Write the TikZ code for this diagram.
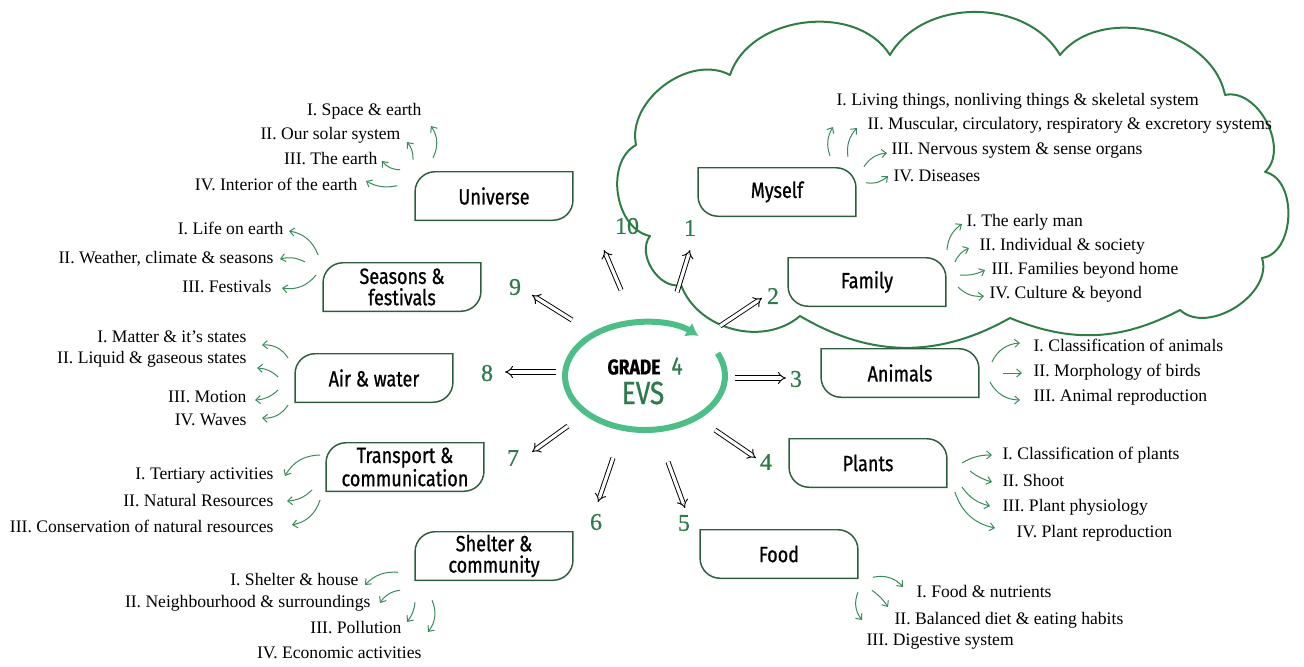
\documentclass[tikz,border=0pt]{standalone}
\usepackage{fontspec}
\setmainfont{Liberation Serif}
\newfontfamily\titlefont[FakeStretch=0.82,FakeBold=0.8]{Fira Sans}
\newfontfamily\numfont[FakeBold=0.6]{Liberation Serif}
\usetikzlibrary{arrows.meta}

\definecolor{numgreen}{HTML}{2E7A4C}
\definecolor{arrgreen}{HTML}{3A8A5A}
\definecolor{boxgreen}{HTML}{2C5E3E}
\definecolor{cloudgreen}{HTML}{2E7D44}
\definecolor{ringgreen}{HTML}{4DBE88}

\tikzset{
  topic/.style={minimum width=118pt, minimum height=36pt, inner sep=0pt, align=center,
    font=\titlefont\fontsize{16.5}{16}\selectfont},
  subtxt/.style={inner sep=1pt, font=\fontsize{13.2}{14}\selectfont},
  num/.style={inner sep=1pt, text=numgreen, font=\numfont\fontsize{18}{18}\selectfont},
  dblarr/.style={double, double distance=2.4pt, line width=0.7pt, -{Implies}},
  subarr/.style={draw=arrgreen, line width=0.75pt, -{Straight Barb[length=3.5pt,width=6pt]}},
  boxline/.style={draw=boxgreen, line width=1.1pt},
  cloudline/.style={draw=cloudgreen, line width=1.5pt, line join=round}
}

% box with rounded top left and bottom right corners
\newcommand\boxleft[1]{\draw[boxline] (#1.south west) -- ([yshift=-15pt]#1.north west)
  arc[start angle=180,end angle=90,radius=15pt] -- (#1.north east)
  -- ([yshift=15pt]#1.south east) arc[start angle=0,end angle=-90,radius=15pt] -- cycle;}
% box with rounded top right and bottom left corners
\newcommand\boxright[1]{\draw[boxline] (#1.north west) -- ([xshift=-15pt]#1.north east)
  arc[start angle=90,end angle=0,radius=15pt] -- (#1.south east)
  -- ([xshift=15pt]#1.south west) arc[start angle=270,end angle=180,radius=15pt] -- cycle;}

\begin{document}
\begin{tikzpicture}[x=0.75pt,y=0.75pt]
\useasboundingbox (0,0) rectangle (1304,-667);

% cloud round myself and family
\draw[cloudline] (681,-285) to[bend left=70] (650,-236) to[bend left=70] (636,-145)
  to[bend left=65] (730,-75) to[bend left=65] (890,-55) to[bend left=60] (1060,-55)
  to[bend left=65] (1225,-95) to[bend left=75] (1265,-172) to[bend left=80] (1262,-258)
  to[bend left=75] (1180,-310) to[bend left=25] (1010,-318) to[bend left=30] (800,-316)
  to[bend left=55] (681,-285);

% centre
\draw[ringgreen, line width=4.5pt, -{Latex[length=9pt,width=12pt]}]
  (645,-376) ++(25:80 and 54) arc[start angle=25,end angle=-312,x radius=80,y radius=54];
\node[inner sep=0pt, font=\titlefont\bfseries\fontsize{16}{16}\selectfont] (grade) at (634,-367) {GRADE};
\node[inner sep=0pt, text=numgreen, font=\titlefont\fontsize{19}{19}\selectfont] (four) at (677,-366) {4};
\node[inner sep=0pt, text=numgreen, font=\titlefont\fontsize{24}{24}\selectfont] (evs) at (643,-393) {EVS};

% topics
\node[topic] (uni) at (494,-196) {Universe};
\node[topic] (mys) at (777,-192) {Myself};
\node[topic] (fam) at (867,-282) {Family};
\node[topic] (sea) at (402,-287) {Seasons \&\\festivals};
\node[topic] (air) at (374,-378) {Air \& water};
\node[topic] (ani) at (900,-373) {Animals};
\node[topic] (tra) at (405,-467) {Transport \&\\communication};
\node[topic] (pla) at (868,-463) {Plants};
\node[topic] (she) at (494,-556) {Shelter \&\\community};
\node[topic] (foo) at (779,-554) {Food};
\boxleft{uni} \boxleft{sea} \boxleft{air} \boxleft{tra} \boxleft{she}
\boxright{mys} \boxright{fam} \boxright{ani} \boxright{pla} \boxright{foo}

% numbers
\node[num] (n1) at (690,-228) {1};
\node[num] (n2) at (773,-296) {2};
\node[num] (n3) at (796,-379) {3};
\node[num] (n4) at (766,-462) {4};
\node[num] (n5) at (684,-523) {5};
\node[num] (n6) at (596,-522) {6};
\node[num] (n7) at (513,-458) {7};
\node[num] (n8) at (487,-373) {8};
\node[num] (n9) at (515,-287) {9};
\node[num] (n10) at (627,-226) {10};

% double arrows out of the centre
\coordinate (c1) at (677,-292);
\coordinate (c2) at (720,-326);
\coordinate (c3) at (735,-378);
\coordinate (c4) at (715,-430);
\coordinate (c5) at (668,-462);
\coordinate (c6) at (613,-458);
\coordinate (c7) at (568,-426);
\coordinate (c8) at (556,-372);
\coordinate (c9) at (572,-320);
\coordinate (c10) at (621,-290);
\draw[dblarr] (c1) -- ([shift={(0,-22)}]n1.center);
\draw[dblarr] (c2) -- ([shift={(-11,-2)}]n2.center);
\draw[dblarr] (c3) -- ([shift={(-10,1)}]n3.center);
\draw[dblarr] (c4) -- ([shift={(-10,4)}]n4.center);
\draw[dblarr] (c5) -- ([shift={(1,15)}]n5.center);
\draw[dblarr] (c6) -- ([shift={(2,20)}]n6.center);
\draw[dblarr] (c7) -- ([shift={(19,6)}]n7.center);
\draw[dblarr] (c8) -- ([shift={(18,1)}]n8.center);
\draw[dblarr] (c9) -- ([shift={(17,-8)}]n9.center);
\draw[dblarr] (c10) -- ([shift={(-23,-24)}]n10.center);

% universe
\node[subtxt, anchor=east] (u1) at (423,-111) {I. Space \& earth};
\node[subtxt, anchor=east] (u2) at (402,-135) {II. Our solar system};
\node[subtxt, anchor=east] (u3) at (379,-159) {III. The earth};
\node[subtxt, anchor=east] (u4) at (359,-184) {IV. Interior of the earth};
\draw[subarr] ([shift={(18,14)}]uni.north west) to[bend right=30] ([shift={(8,-15)}]u1.east);
\draw[subarr] ([shift={(-2,12)}]uni.north west) to[bend right=20] ([shift={(5,-7)}]u2.east);
\draw[subarr] ([shift={(-15,2)}]uni.north west) to[bend left=25] ([shift={(3,-2)}]u3.east);
\draw[subarr] ([shift={(-18,-14)}]uni.north west) to[bend left=20] ([shift={(7,3)}]u4.east);

% myself
\node[subtxt, anchor=west] (m1) at (835,-101) {I. Living things, nonliving things \& skeletal system};
\node[subtxt, anchor=west] (m2) at (866,-125) {II. Muscular, circulatory, respiratory \& excretory systems};
\node[subtxt, anchor=west] (m3) at (890,-151) {III. Nervous system \& sense organs};
\node[subtxt, anchor=west] (m4) at (892,-176) {IV. Diseases};
\draw[subarr] ([shift={(-26,12)}]mys.north east) to[bend left=25] ([shift={(-2,-26)}]m1.west);
\draw[subarr] ([shift={(-8,11)}]mys.north east) to[bend left=25] ([shift={(-9,-3)}]m2.west);
\draw[subarr] ([shift={(8,1)}]mys.north east) to[bend left=25] ([shift={(-3,-2)}]m3.west);
\draw[subarr] ([shift={(10,-15)}]mys.north east) to[bend right=25] ([shift={(-4,0)}]m4.west);

% family
\node[subtxt, anchor=west] (f1) at (965,-222) {I. The early man};
\node[subtxt, anchor=west] (f2) at (978,-246) {II. Individual \& society};
\node[subtxt, anchor=west] (f3) at (990,-270) {III. Families beyond home};
\node[subtxt, anchor=west] (f4) at (988,-294) {IV. Culture \& beyond};
\draw[subarr] ([shift={(1,32)}]fam.east) to[bend left=25] ([shift={(-3,-2)}]f1.west);
\draw[subarr] ([shift={(9,20)}]fam.east) to[bend left=20] ([shift={(-9,-2)}]f2.west);
\draw[subarr] ([shift={(14,7)}]fam.east) to[bend right=15] ([shift={(-5,0)}]f3.west);
\draw[subarr] ([shift={(12,-5)}]fam.east) to[bend right=25] ([shift={(-4,-2)}]f4.west);

% seasons & festivals
\node[subtxt, anchor=east] (s1) at (285,-228) {I. Life on earth};
\node[subtxt, anchor=east] (s2) at (275,-259) {II. Weather, climate \& seasons};
\node[subtxt, anchor=east] (s3) at (273,-287) {III. Festivals};
\draw[subarr] ([shift={(-5,32)}]sea.west) to[bend right=30] ([shift={(4,-3)}]s1.east);
\draw[subarr] ([shift={(-18,25)}]sea.west) to[bend right=20] ([shift={(5,0)}]s2.east);
\draw[subarr] ([shift={(-7,12)}]sea.west) to[bend left=30] ([shift={(9,-1)}]s3.east);

% air & water
\node[subtxt, anchor=east] (w1) at (248,-337) {I. Matter \& it's states};
\node[subtxt, anchor=east] (w2) at (248,-359) {II. Liquid \& gaseous states};
\node[subtxt, anchor=east] (w3) at (248,-397) {III. Motion};
\node[subtxt, anchor=east] (w4) at (248,-420) {IV. Waves};
\draw[subarr] ([shift={(-7,20)}]air.west) to[bend right=30] ([shift={(14,-8)}]w1.east);
\draw[subarr] ([shift={(-17,1)}]air.west) to[bend right=20] ([shift={(9,-9)}]w2.east);
\draw[subarr] ([shift={(-17,-12)}]air.west) to[bend left=20] ([shift={(7,-3)}]w3.east);
\draw[subarr] ([shift={(-7,-27)}]air.west) to[bend left=30] ([shift={(14,2)}]w4.east);

% transport & communication
\node[subtxt, anchor=east] (t1) at (275,-476) {I. Tertiary activities};
\node[subtxt, anchor=east] (t2) at (275,-501) {II. Natural Resources};
\node[subtxt, anchor=east] (t3) at (275,-526) {III. Conservation of natural resources};
\draw[subarr] ([shift={(-6,12)}]tra.west) to[bend right=30] ([shift={(10,0)}]t1.east);
\draw[subarr] ([shift={(-14,-23)}]tra.west) to[bend left=20] ([shift={(12,0)}]t2.east);
\draw[subarr] ([shift={(-6,-33)}]tra.west) to[bend left=30] ([shift={(17,1)}]t3.east);

% shelter & community
\node[subtxt, anchor=east] (h1) at (360,-580) {I. Shelter \& house};
\node[subtxt, anchor=east] (h2) at (372,-603) {II. Neighbourhood \& surroundings};
\node[subtxt, anchor=east] (h3) at (403,-628) {III. Pollution};
\node[subtxt, anchor=east] (h4) at (423,-653) {IV. Economic activities};
\draw[subarr] ([shift={(-17,8)}]she.south west) to[bend right=25] ([shift={(5,-5)}]h1.east);
\draw[subarr] ([shift={(-15,-10)}]she.south west) to[bend right=25] ([shift={(8,0)}]h2.east);
\draw[subarr] ([shift={(0,-22)}]she.south west) to[bend left=15] ([shift={(4,6)}]h3.east);
\draw[subarr] ([shift={(17,-20)}]she.south west) to[bend left=30] ([shift={(5,21)}]h4.east);

% animals
\node[subtxt, anchor=west] (a1) at (1032,-345) {I. Classification of animals};
\node[subtxt, anchor=west] (a2) at (1032,-372) {II. Morphology of birds};
\node[subtxt, anchor=west] (a3) at (1032,-397) {III. Animal reproduction};
\draw[subarr] ([shift={(13,11)}]ani.east) to[bend left=30] ([shift={(-12,2)}]a1.west);
\draw[subarr] ([shift={(24,0)}]ani.east) -- ([shift={(-10,-1)}]a2.west);
\draw[subarr] ([shift={(11,-9)}]ani.east) to[bend right=30] ([shift={(-12,-3)}]a3.west);

% plants
\node[subtxt, anchor=west] (p1) at (1001,-455) {I. Classification of plants};
\node[subtxt, anchor=west] (p2) at (1001,-481) {II. Shoot};
\node[subtxt, anchor=west] (p3) at (1001,-507) {III. Plant physiology};
\node[subtxt, anchor=west] (p4) at (1015,-533) {IV. Plant reproduction};
\draw[subarr] ([shift={(15,0)}]pla.east) to[bend left=15] ([shift={(-9,0)}]p1.west);
\draw[subarr] ([shift={(23,-8)}]pla.east) to[bend right=10] ([shift={(-9,-1)}]p2.west);
\draw[subarr] ([shift={(15,-24)}]pla.east) to[bend right=20] ([shift={(-11,1)}]p3.west);
\draw[subarr] ([shift={(8,-29)}]pla.east) to[bend right=30] ([shift={(-20,5)}]p4.west);

% food
\node[subtxt, anchor=west] (o1) at (915,-592) {I. Food \& nutrients};
\node[subtxt, anchor=west] (o2) at (893,-620) {II. Balanced diet \& eating habits};
\node[subtxt, anchor=west] (o3) at (865,-642) {III. Digestive system};
\draw[subarr] ([shift={(15,1)}]foo.south east) to[bend left=30] ([shift={(-12,5)}]o1.west);
\draw[subarr] ([shift={(14,-12)}]foo.south east) to[bend left=10] ([shift={(-5,13)}]o2.west);
\draw[subarr] ([shift={(0,-14)}]foo.south east) to[bend right=30] ([shift={(-3,22)}]o3.west);
\end{tikzpicture}
\end{document}
